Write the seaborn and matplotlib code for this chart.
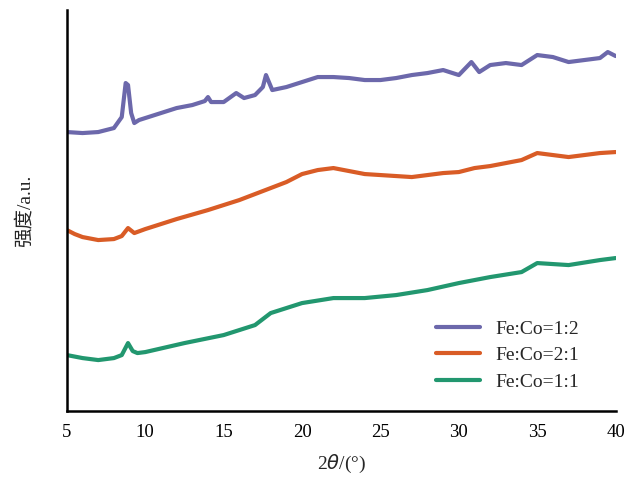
import pandas as pd
import numpy as np
import matplotlib.pyplot as plt
import seaborn as sns

# values (intensity in arbitrary units)
two_theta_12 = [5, 6, 7, 8, 8.5, 8.75, 8.9, 9.1, 9.3, 9.6, 10, 11, 12, 13, 13.8, 14, 14.2, 15, 15.8,
                16.3, 17, 17.5, 17.7, 18.1, 19, 20, 21, 22, 23, 24, 25, 26, 27, 28, 29, 30,
                30.8, 31.3, 32, 33, 34, 35, 36, 37, 38, 39, 39.5, 40]
int_12 = [279, 278, 279, 283, 294, 328, 326, 298, 288, 291, 293, 298, 303, 306, 310, 314, 309, 309, 318,
          313, 316, 324, 336, 321, 324, 329, 334, 334, 333, 331, 331, 333, 336, 338, 341, 336,
          349, 339, 346, 348, 346, 356, 354, 349, 351, 353, 359, 355]

two_theta_21 = [5, 5.5, 6, 7, 8, 8.5, 8.9, 9.3, 10, 12, 14, 16, 18, 19, 20, 21, 22, 23, 24, 25,
                26, 27, 28, 29, 30, 31, 32, 33, 34, 35, 36, 37, 38, 39, 40]
int_21 = [181, 177, 174, 171, 172, 175, 183, 178, 182, 192, 201, 211, 223, 229, 237, 241, 243, 240, 237, 236,
          235, 234, 236, 238, 239, 243, 245, 248, 251, 258, 256, 254, 256, 258, 259]

two_theta_11 = [5, 6, 7, 8, 8.5, 8.9, 9.2, 9.5, 10, 12.5, 15, 17, 18, 20, 22, 24, 26, 28, 30, 32,
                34, 35, 37, 39, 40]
int_11 = [56, 53, 51, 53, 56, 68, 60, 58, 59, 68, 76, 86, 98, 108, 113, 113, 116, 121, 128, 134,
          139, 148, 146, 151, 153]

labels = ['Fe:Co=1:2', 'Fe:Co=2:1', 'Fe:Co=1:1']
colors = ['#6c68ab', '#d95c26', '#22976f']

df = pd.concat([
    pd.DataFrame({'x': two_theta_12, 'y': int_12, 'sample': labels[0]}),
    pd.DataFrame({'x': two_theta_21, 'y': int_21, 'sample': labels[1]}),
    pd.DataFrame({'x': two_theta_11, 'y': int_11, 'sample': labels[2]}),
])

sns.set_style('white')
plt.rcParams['font.family'] = ['Liberation Serif', 'Noto Sans CJK SC']

fig = plt.figure(figsize=(6.25, 4.78), dpi=100)
ax = fig.add_axes([0.107, 0.140, 0.878, 0.839])

sns.lineplot(data=df, x='x', y='y', hue='sample', hue_order=labels, palette=colors,
             linewidth=3, ax=ax, sort=False)

ax.set_xlim(5, 40)
ax.set_ylim(0, 401)
ax.set_xticks(range(5, 41, 5))
ax.set_yticks([])
ax.tick_params(axis='x', direction='in', length=5, width=1.5, labelsize=13.5, pad=9, colors='black')
for s in ['top', 'right']:
    ax.spines[s].set_visible(False)
for s in ['left', 'bottom']:
    ax.spines[s].set_color('black')
    ax.spines[s].set_linewidth(1.8)

ax.set_xlabel('2$\\it{θ}$/(°)', fontsize=14, labelpad=9)
ax.set_ylabel('强度/a.u.', fontsize=14, labelpad=24)

leg = ax.legend(loc='upper left', bbox_to_anchor=(0.64, 0.27), frameon=False,
                fontsize=14, handlelength=2.3, labelspacing=0.45)
for h in leg.get_lines():
    h.set_linewidth(3)

fig.savefig('out.png', dpi=100)
